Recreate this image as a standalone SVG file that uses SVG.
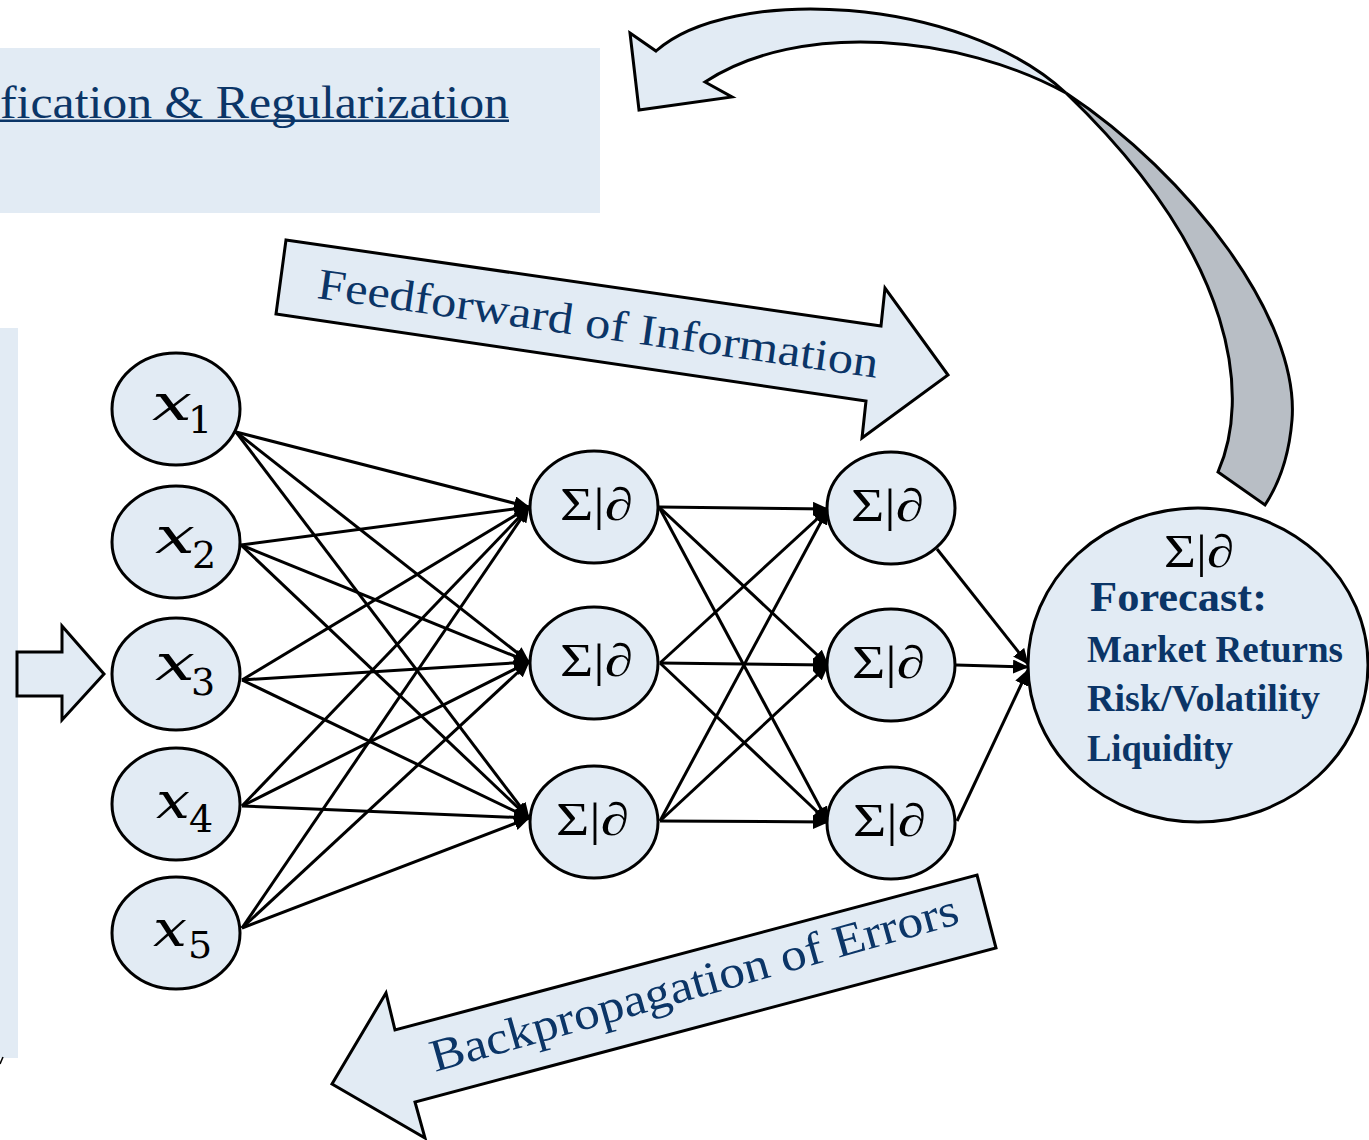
<svg xmlns="http://www.w3.org/2000/svg" width="1369" height="1140" viewBox="0 0 1369 1140">
<defs>
<style>
.bg{fill:#e2ebf4}
.node{fill:#e2ebf4;stroke:#000;stroke-width:3}
.blk{fill:#e2ebf4;stroke:#000;stroke-width:3;stroke-linejoin:miter}
.con{stroke:#000;stroke-width:3;fill:none;marker-end:url(#ah)}
.navy{fill:#0b3567;font-family:"Liberation Serif","Times New Roman",serif}
.sig{fill:#000;font-family:"Liberation Serif","DejaVu Serif",serif;font-size:46px}
.xv{fill:#000;font-family:"DejaVu Serif","Liberation Serif",serif;font-style:italic;font-size:50px}
.xs{fill:#000;font-family:"DejaVu Serif","Liberation Serif",serif;font-size:38px}
</style>
<marker id="ah" markerUnits="userSpaceOnUse" markerWidth="16" markerHeight="14" refX="15" refY="7" orient="auto">
<path d="M0,0 L16,7 L0,14 z" fill="#000"/>
</marker>
</defs>

<g id="reg-panel">
<rect class="bg" x="0" y="48" width="600" height="165"/>
<text class="navy" x="0" y="118" font-size="46" textLength="509" lengthAdjust="spacingAndGlyphs">fication &amp; Regularization</text>
<rect x="0" y="119.5" width="509" height="2.5" fill="#0b3567"/>
</g>

<g id="left-panel">
<rect class="bg" x="0" y="328" width="18" height="730"/>
<line x1="0" y1="1064" x2="3" y2="1057" stroke="#000" stroke-width="1.5"/>
</g>

<g id="input-arrow">
<polygon class="blk" points="17,652 62,652 62,626 104,674 62,720 62,696 17,696"/>
</g>

<g id="feedback-arrow">
<path d="M630,33 L656,51 C730,-15 960,-5 1066,93 C960,35 800,20 705,82 L732,97 L639,110 Z" fill="#e2ebf4" stroke="#000" stroke-width="3" stroke-linejoin="miter"/>
<path d="M1066,93 C1190,175 1300,320 1292,420 Q1288,470 1265,505 L1218,472 C1250,400 1240,260 1066,93 Z" fill="#b8bec5" stroke="#000" stroke-width="3" stroke-linejoin="miter"/>
</g>

<g id="feedforward-arrow">
<polygon class="blk" points="286,240 881,326 885,288 948,375 862,438 866,401 276,314"/>
<text class="navy" font-size="44" transform="translate(316,298) rotate(8.1)" textLength="566" lengthAdjust="spacingAndGlyphs">Feedforward of Information</text>
</g>

<g id="backprop-arrow">
<polygon class="blk" points="977,875 996,948 415,1102 425,1138 332,1084 386,993 395,1030"/>
<text class="navy" font-size="46" transform="translate(435,1072) rotate(-15.8)" textLength="547" lengthAdjust="spacingAndGlyphs">Backpropagation of Errors</text>
</g>

<g id="connectors">
<line class="con" x1="236" y1="432" x2="529" y2="507"/>
<line class="con" x1="236" y1="432" x2="529" y2="662"/>
<line class="con" x1="236" y1="432" x2="529" y2="818"/>
<line class="con" x1="241" y1="545" x2="529" y2="507"/>
<line class="con" x1="241" y1="545" x2="529" y2="662"/>
<line class="con" x1="241" y1="545" x2="529" y2="818"/>
<line class="con" x1="242" y1="680" x2="529" y2="507"/>
<line class="con" x1="242" y1="680" x2="529" y2="662"/>
<line class="con" x1="242" y1="680" x2="529" y2="818"/>
<line class="con" x1="242" y1="806" x2="529" y2="507"/>
<line class="con" x1="242" y1="806" x2="529" y2="662"/>
<line class="con" x1="242" y1="806" x2="529" y2="818"/>
<line class="con" x1="242" y1="928" x2="529" y2="507"/>
<line class="con" x1="242" y1="928" x2="529" y2="662"/>
<line class="con" x1="242" y1="928" x2="529" y2="818"/>

<line class="con" x1="659" y1="507" x2="828" y2="509"/>
<line class="con" x1="659" y1="507" x2="828" y2="665"/>
<line class="con" x1="659" y1="507" x2="828" y2="822"/>
<line class="con" x1="660" y1="663" x2="828" y2="509"/>
<line class="con" x1="660" y1="663" x2="828" y2="665"/>
<line class="con" x1="660" y1="663" x2="828" y2="822"/>
<line class="con" x1="660" y1="821" x2="828" y2="509"/>
<line class="con" x1="660" y1="821" x2="828" y2="665"/>
<line class="con" x1="660" y1="821" x2="828" y2="822"/>

<line class="con" x1="937" y1="549" x2="1028" y2="664"/>
<line class="con" x1="956" y1="665" x2="1028" y2="667"/>
<line class="con" x1="957" y1="821" x2="1028" y2="670"/>
</g>

<g id="x1"><ellipse class="node" cx="176" cy="409" rx="64" ry="56"/><text class="xv" x="152" y="420" textLength="40" lengthAdjust="spacingAndGlyphs">x</text><text class="xs" x="188" y="433">1</text></g>
<g id="x2"><ellipse class="node" cx="176" cy="542" rx="64" ry="56"/><text class="xv" x="155" y="553" textLength="40" lengthAdjust="spacingAndGlyphs">x</text><text class="xs" x="192" y="568">2</text></g>
<g id="x3"><ellipse class="node" cx="176" cy="674" rx="64" ry="56"/><text class="xv" x="155" y="680" textLength="40" lengthAdjust="spacingAndGlyphs">x</text><text class="xs" x="191" y="695">3</text></g>
<g id="x4"><ellipse class="node" cx="176" cy="804" rx="64" ry="56"/><text class="xv" x="156" y="818" textLength="34" lengthAdjust="spacingAndGlyphs">x</text><text class="xs" x="189" y="832">4</text></g>
<g id="x5"><ellipse class="node" cx="176" cy="933" rx="64" ry="56"/><text class="xv" x="153" y="946" textLength="34" lengthAdjust="spacingAndGlyphs">x</text><text class="xs" x="188" y="958">5</text></g>

<g id="h1a"><ellipse class="node" cx="594" cy="507" rx="64" ry="56"/><text class="sig" x="560" y="520" textLength="73" lengthAdjust="spacingAndGlyphs">Σ|∂</text></g>
<g id="h1b"><ellipse class="node" cx="594" cy="663" rx="64" ry="56"/><text class="sig" x="560" y="676" textLength="73" lengthAdjust="spacingAndGlyphs">Σ|∂</text></g>
<g id="h1c"><ellipse class="node" cx="594" cy="822" rx="64" ry="56"/><text class="sig" x="556" y="835" textLength="73" lengthAdjust="spacingAndGlyphs">Σ|∂</text></g>

<g id="h2a"><ellipse class="node" cx="891" cy="508" rx="64" ry="56"/><text class="sig" x="851" y="521" textLength="73" lengthAdjust="spacingAndGlyphs">Σ|∂</text></g>
<g id="h2b"><ellipse class="node" cx="891" cy="665" rx="64" ry="56"/><text class="sig" x="852" y="678" textLength="73" lengthAdjust="spacingAndGlyphs">Σ|∂</text></g>
<g id="h2c"><ellipse class="node" cx="891" cy="823" rx="64" ry="56"/><text class="sig" x="853" y="836" textLength="73" lengthAdjust="spacingAndGlyphs">Σ|∂</text></g>

<g id="output">
<ellipse class="node" cx="1198" cy="665" rx="170" ry="157"/>
<text class="sig" x="1164" y="567" font-size="40" textLength="70" lengthAdjust="spacingAndGlyphs">Σ|∂</text>
<text class="navy" x="1090" y="611" font-size="43" font-weight="bold" textLength="177" lengthAdjust="spacingAndGlyphs">Forecast:</text>
<text class="navy" x="1087" y="662" font-size="37" font-weight="bold" textLength="256" lengthAdjust="spacingAndGlyphs">Market Returns</text>
<text class="navy" x="1087" y="711" font-size="37" font-weight="bold" textLength="233" lengthAdjust="spacingAndGlyphs">Risk/Volatility</text>
<text class="navy" x="1087" y="761" font-size="37" font-weight="bold" textLength="146" lengthAdjust="spacingAndGlyphs">Liquidity</text>
</g>
</svg>
